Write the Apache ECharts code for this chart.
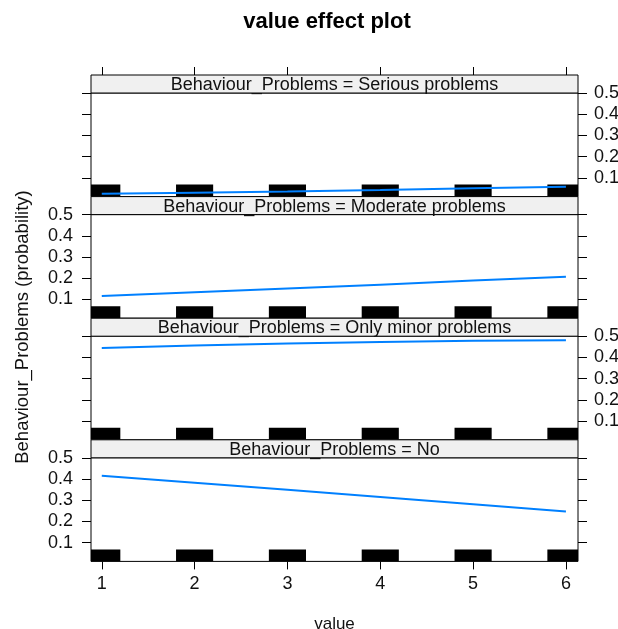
<!DOCTYPE html>
<html><head><meta charset="utf-8">
<script src="https://cdn.jsdelivr.net/npm/echarts@6/dist/echarts.min.js"></script>
<style>html,body{margin:0;padding:0;background:#fff}#c{width:618px;height:629px}</style>
</head><body><div id="c"></div>
<script>
// ---- data ----
const xValues = [1, 2, 3, 4, 5, 6];
const panelLabels = [
  'Behaviour_Problems = Serious problems',
  'Behaviour_Problems = Moderate problems',
  'Behaviour_Problems = Only minor problems',
  'Behaviour_Problems = No'
];
const seriousProb   = [0.025, 0.030, 0.036, 0.043, 0.051, 0.058];
const moderateProb  = [0.117, 0.134, 0.152, 0.170, 0.189, 0.207];
const onlyMinorProb = [0.445, 0.456, 0.466, 0.473, 0.478, 0.481];
const noProb        = [0.416, 0.383, 0.349, 0.315, 0.281, 0.247];
const yTicks = [0.1, 0.2, 0.3, 0.4, 0.5];
const xTicks = [1, 2, 3, 4, 5, 6];
const rugValues = [1, 2, 3, 4, 5, 6];
const chartTitle = 'value effect plot';
const xName = 'value';
const yName = 'Behaviour_Problems (probability)';

// ---- layout / style ----
const FONT = 'Liberation Sans, Arial, sans-serif';
const L = 91, W = 487, TOP0 = 93, STEP = 121.6, PLOT_H = 103.6, STRIP_H = 18;
const X_MIN = 0.884, X_MAX = 6.13, Y_MIN = 0.012, Y_MAX = 0.5;
const RUG_HALF = 0.2, RUG_H = 12;
const panels = [seriousProb, moderateProb, onlyMinorProb, noProb];

const chart = echarts.init(document.getElementById('c'), null, {renderer: 'canvas'});
const grids = [], xAxes = [], yAxes = [], series = [], graphics = [];
const tickStyle = {color: '#000', width: 1};
const labelStyle = {fontSize: 18, color: '#111', fontFamily: FONT};

panels.forEach((probs, i) => {
  const top = TOP0 + i * STEP;
  grids.push({left: L, width: W, top: top, height: PLOT_H, show: true,
    outerBoundsMode: 'none', containLabel: false,
    borderColor: '#000', borderWidth: 1, backgroundColor: 'transparent'});
  xAxes.push({gridIndex: i, type: 'value', min: X_MIN, max: X_MAX, position: 'bottom',
    axisLine: {show: false}, splitLine: {show: false},
    axisTick: {show: i === 3, customValues: xTicks, length: 8, inside: false, lineStyle: tickStyle},
    axisLabel: Object.assign({show: i === 3, customValues: xTicks, margin: 14,
      formatter: v => String(v)}, labelStyle),
    name: i === 3 ? xName : '', nameLocation: 'middle', nameGap: 54,
    nameTextStyle: {fontSize: 17, color: '#111', fontFamily: FONT}});
  ['left', 'right'].forEach(side => {
    const showLab = side === 'left' ? (i % 2 === 1) : (i % 2 === 0);
    yAxes.push({gridIndex: i, type: 'value', min: Y_MIN, max: Y_MAX, position: side,
      axisLine: {show: false}, splitLine: {show: false},
      axisTick: {show: true, customValues: yTicks, length: 9, inside: false, lineStyle: tickStyle},
      axisLabel: Object.assign({show: showLab, customValues: yTicks,
        margin: side === 'left' ? 18 : 16, formatter: v => v.toFixed(1)}, labelStyle)});
  });
  series.push({type: 'custom', xAxisIndex: i, yAxisIndex: 2 * i, clip: true, silent: true, z: 2,
    data: rugValues.map(v => [v, Y_MIN]),
    renderItem: (params, api) => {
      const x = api.value(0);
      const a = api.coord([x - RUG_HALF, Y_MIN]);
      const b = api.coord([x + RUG_HALF, Y_MIN]);
      return {type: 'rect', shape: {x: a[0], y: a[1] - RUG_H, width: b[0] - a[0], height: RUG_H},
        style: {fill: '#000'}};
    }});
  series.push({type: 'line', xAxisIndex: i, yAxisIndex: 2 * i, showSymbol: false, silent: true, z: 3,
    data: xValues.map((x, j) => [x, probs[j]]),
    lineStyle: {color: '#0080ff', width: 2}});
  graphics.push({type: 'rect', z: 100, silent: true,
    shape: {x: L, y: top - STRIP_H, width: W, height: STRIP_H},
    style: {fill: '#f0f0f0', stroke: '#000', lineWidth: 1}});
  graphics.push({type: 'text', z: 101, silent: true, x: L + W / 2, y: top - STRIP_H / 2 + 1,
    style: {text: panelLabels[i], textAlign: 'center', textVerticalAlign: 'middle',
      font: '18px ' + FONT, fill: '#111'}});
});
// top x-axis ticks above the first strip
xAxes.push({gridIndex: 0, type: 'value', min: X_MIN, max: X_MAX, position: 'top', offset: STRIP_H,
  axisLine: {show: false}, splitLine: {show: false}, axisLabel: {show: false},
  axisTick: {show: true, customValues: xTicks, length: 8, inside: false, lineStyle: tickStyle}});

graphics.push({type: 'text', z: 101, silent: true, x: 327, y: 22,
  style: {text: chartTitle, textAlign: 'center', textVerticalAlign: 'middle',
    font: 'bold 22px ' + FONT, fill: '#000'}});
graphics.push({type: 'text', z: 101, silent: true, x: 23, y: 327, rotation: Math.PI / 2,
  style: {text: yName, textAlign: 'center', textVerticalAlign: 'middle',
    font: '18.5px ' + FONT, fill: '#111'}});

chart.setOption({
  animation: false,
  backgroundColor: '#fff',
  grid: grids, xAxis: xAxes, yAxis: yAxes, series: series, graphic: graphics
});
</script></body></html>
